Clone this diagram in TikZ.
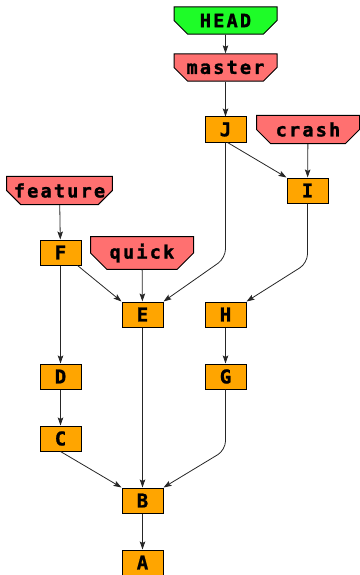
\documentclass[tikz,border=0pt]{standalone}
\usepackage{fontspec}
\newfontfamily\gitmono[LetterSpace=12,FakeBold=1.5]{DejaVu Sans Mono Bold}
\newfontfamily\gitcommit[FakeBold=1]{DejaVu Sans Mono Bold}
\usetikzlibrary{shapes.misc,arrows.meta}
\definecolor{headgreen}{RGB}{30,252,40}
\definecolor{refred}{RGB}{255,112,112}
\definecolor{commitorange}{RGB}{255,165,0}
\tikzset{
  refnode/.style={chamfered rectangle, chamfered rectangle corners={south west,south east},
    chamfered rectangle xsep=10pt, chamfered rectangle ysep=7pt,
    draw=black, line width=1pt, fill=refred, minimum width=103pt, minimum height=25pt,
    inner sep=0pt, font=\gitmono\fontsize{18.5}{20}\selectfont},
  headnode/.style={refnode, fill=headgreen},
  commitnode/.style={rectangle, draw=black, line width=1pt, fill=commitorange,
    minimum width=41pt, minimum height=25pt, inner sep=0pt,
    font=\gitcommit\fontsize{19}{20}\selectfont},
  edge/.style={draw=black!85, line width=0.8pt, -{Stealth[length=8pt,width=5.5pt,inset=1.5pt]}},
}
\begin{document}
\begin{tikzpicture}[x=1pt,y=-1pt]
\useasboundingbox (0,0) rectangle (359,575);
\node[headnode] (HEAD) at (225.5,20.5) {HEAD};
\node[refnode] (master) at (225.5,67.5) {master};
\node[refnode] (crash) at (308,129.5) {crash};
\node[refnode] (feature) at (59.5,190.5) {feature};
\node[refnode] (quick) at (142,253) {quick};
\node[commitnode] (J) at (225.5,129.5) {J};
\node[commitnode] (I) at (307.5,190.5) {I};
\node[commitnode] (F) at (60.5,252.5) {F};
\node[commitnode] (E) at (142.5,314.5) {E};
\node[commitnode] (H) at (225.5,314.5) {H};
\node[commitnode] (D) at (60.5,376.5) {D};
\node[commitnode] (G) at (225.5,376.5) {G};
\node[commitnode] (C) at (60.5,438.5) {C};
\node[commitnode] (B) at (142.5,500.5) {B};
\node[commitnode] (A) at (142.5,562.5) {A};
\coordinate (jbend) at (225.5,258);
\coordinate (ibend) at (307.5,263);
\coordinate (gbend) at (225.5,450);
\draw[edge] (HEAD) -- (master);
\draw[edge] (master) -- (J);
\draw[edge] (crash) -- (I);
\draw[edge] (feature) -- (F);
\draw[edge] (quick) -- (E);
\draw[edge] ([xshift=2pt]J.south) -- (I.north west);
\draw[edge, rounded corners=9pt] (J.south) -- (jbend) -- (E.north east);
\draw[edge] ([xshift=-4pt]F.south east) -- (E.north west);
\draw[edge, rounded corners=9pt] (I.south) -- (ibend) -- (H.north east);
\draw[edge] (F) -- (D);
\draw[edge] (H) -- (G);
\draw[edge] (D) -- (C);
\draw[edge] (C.south) -- (B.north west);
\draw[edge] (E) -- (B);
\draw[edge, rounded corners=9pt] (G.south) -- (gbend) -- (B.north east);
\draw[edge] (B) -- (A);
\end{tikzpicture}
\end{document}
